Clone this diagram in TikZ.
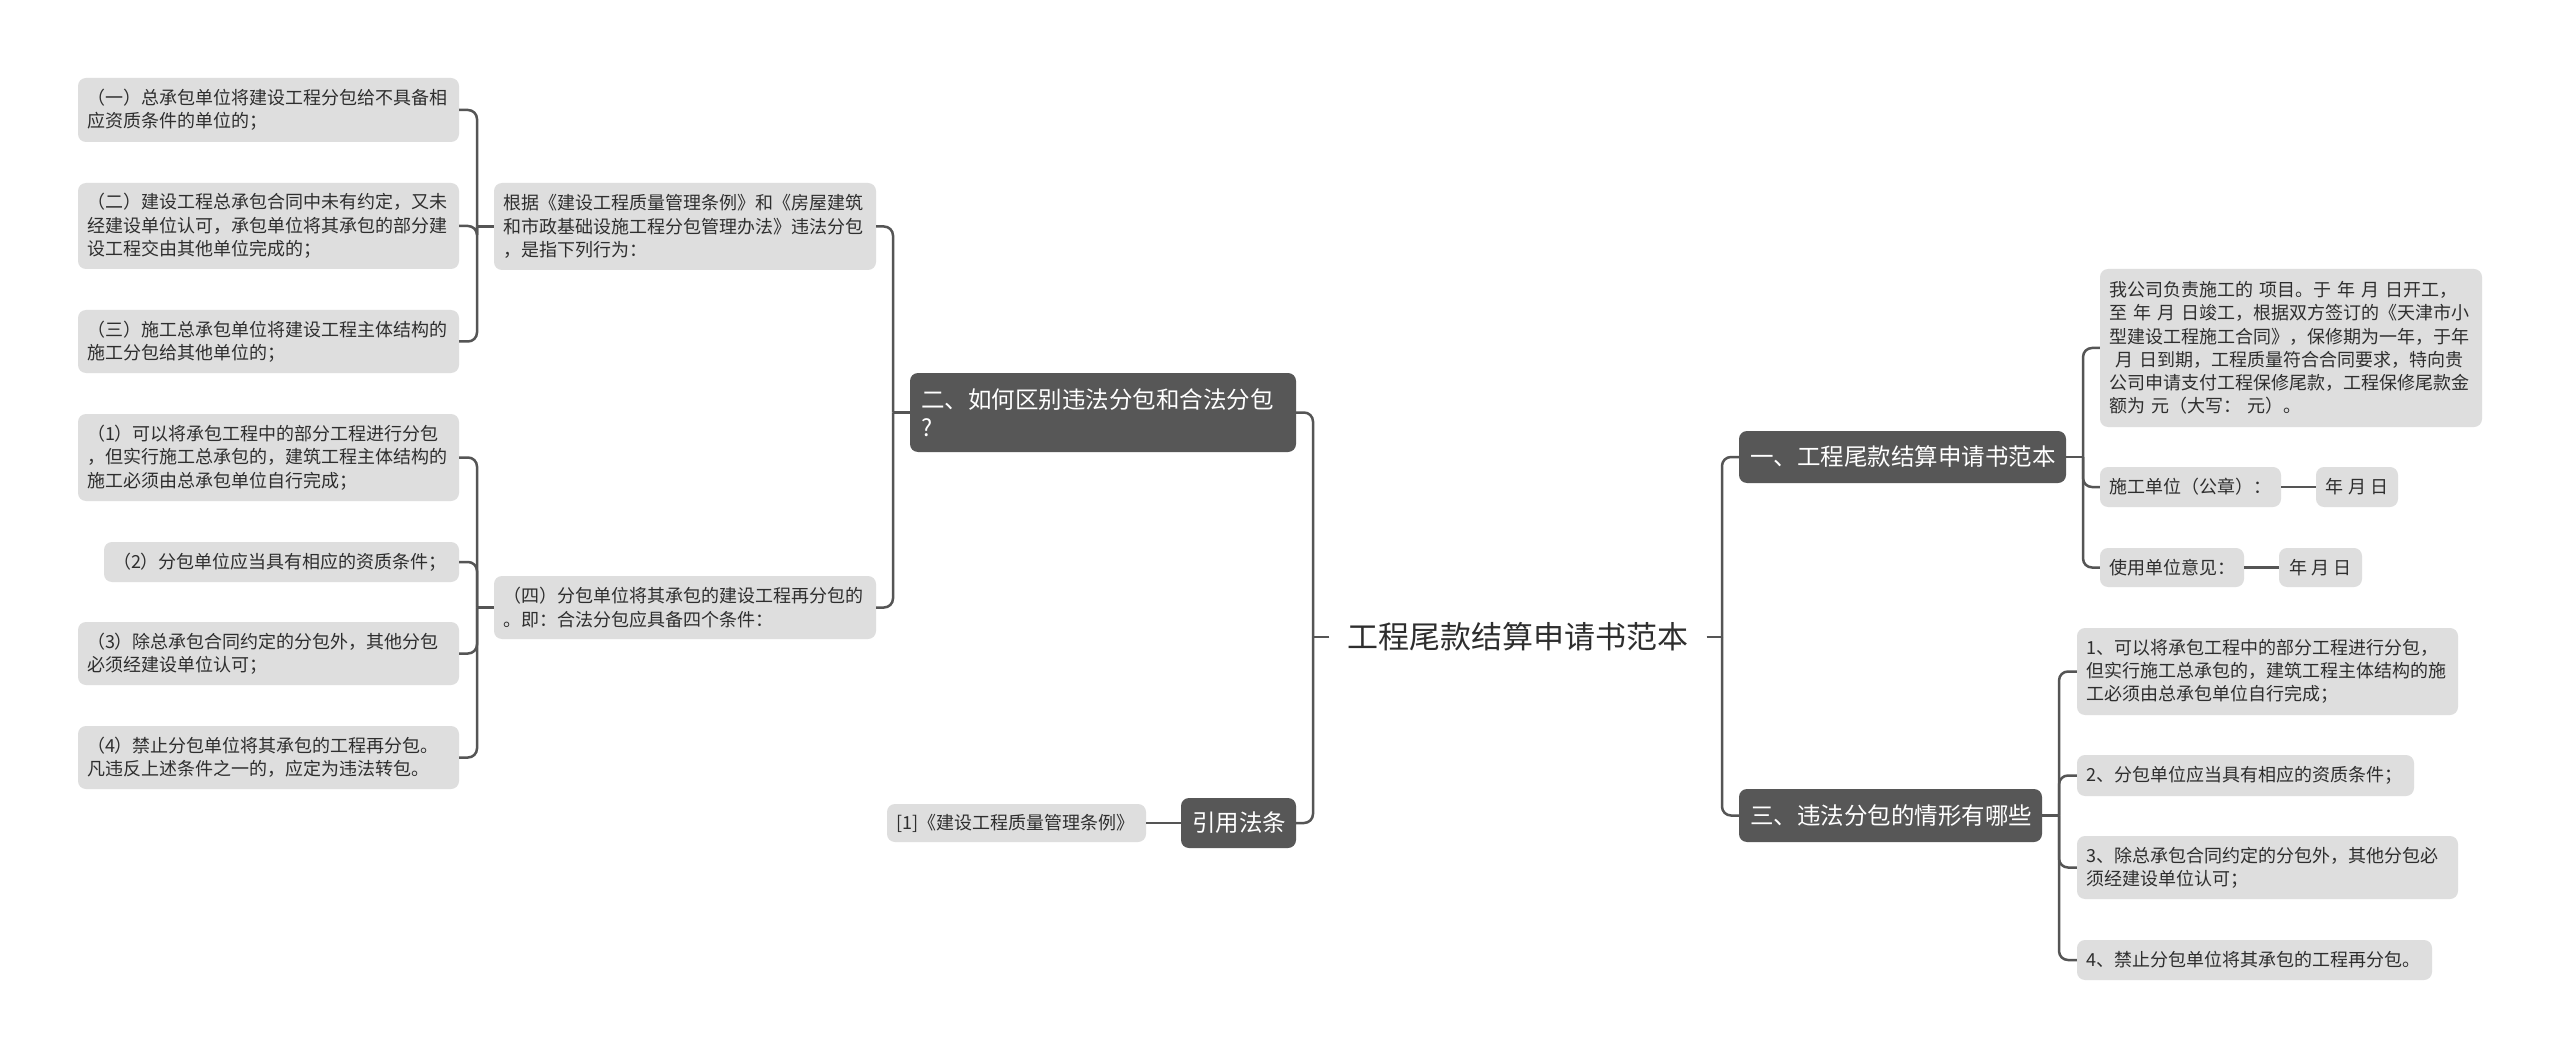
\documentclass[tikz,border=0pt]{standalone}
\usepackage{fontspec}
\setmainfont{Noto Sans CJK SC}
\definecolor{boxgray}{HTML}{DEDEDE}
\definecolor{darkbox}{HTML}{575757}
\definecolor{linegray}{HTML}{555555}
\definecolor{txt}{HTML}{2E2E2E}
\newcommand\mmSmall{\fontsize{18}{23.3}\selectfont}
\newcommand\mmMid{\fontsize{23.5}{28.5}\selectfont}
\newcommand\mmBig{\fontsize{31}{36}\selectfont}
\tikzset{
  lbox/.style={fill=boxgray, rounded corners=8pt, inner xsep=9pt, inner ysep=0pt,
    align=left, font=\mmSmall, text=txt},
  dbox/.style={fill=darkbox, rounded corners=8pt, inner xsep=11pt, inner ysep=0pt,
    align=left, font=\mmMid, text=white},
  conn/.style={draw=linegray, line width=2.5pt, rounded corners=9pt},
}
\begin{document}
\begin{tikzpicture}[x=1pt,y=-1pt]
\useasboundingbox[fill=white] (0,0) rectangle (2560,1059);

% ---------- root ----------
\node[font=\mmBig, text=txt, inner xsep=18pt, inner ysep=4pt] (root) at (1518,637) {工程尾款结算申请书范本};

% ---------- left side ----------
\node[dbox, minimum height=79pt, text width=364pt] (n2) at (1103,412.5) {二、如何区别违法分包和合法分包\\?};
\node[dbox, minimum height=50pt, text width=93pt] (n4) at (1238.5,823) {引用法条};
\node[lbox, minimum height=38pt, text width=241pt] (ref) at (1016.5,823) {[1]《建设工程质量管理条例》};

\node[lbox, minimum height=87pt, text width=364pt] (p1) at (685,226.5) {根据《建设工程质量管理条例》和《房屋建筑\\和市政基础设施工程分包管理办法》违法分包\\，是指下列行为：};
\node[lbox, minimum height=63pt, text width=364pt] (p2) at (685,607.5) {（四）分包单位将其承包的建设工程再分包的\\。即：合法分包应具备四个条件：};

\node[lbox, minimum height=64pt, text width=363pt] (a1) at (268.5,110) {（一）总承包单位将建设工程分包给不具备相\\应资质条件的单位的；};
\node[lbox, minimum height=86pt, text width=363pt] (a2) at (268.5,226) {（二）建设工程总承包合同中未有约定，又未\\经建设单位认可，承包单位将其承包的部分建\\设工程交由其他单位完成的；};
\node[lbox, minimum height=63pt, text width=363pt] (a3) at (268.5,341.5) {（三）施工总承包单位将建设工程主体结构的\\施工分包给其他单位的；};

\node[lbox, minimum height=87pt, text width=363pt] (b1) at (268.5,457.5) {（1）可以将承包工程中的部分工程进行分包\\，但实行施工总承包的，建筑工程主体结构的\\施工必须由总承包单位自行完成；};
\node[lbox, minimum height=40pt, text width=337pt] (b2) at (281.5,562) {（2）分包单位应当具有相应的资质条件；};
\node[lbox, minimum height=63pt, text width=363pt] (b3) at (268.5,653.5) {（3）除总承包合同约定的分包外，其他分包\\必须经建设单位认可；};
\node[lbox, minimum height=63pt, text width=363pt] (b4) at (268.5,757.5) {（4）禁止分包单位将其承包的工程再分包。\\凡违反上述条件之一的，应定为违法转包。};

% ---------- right side ----------
\node[dbox, minimum height=52pt, text width=305pt] (n1) at (1902.5,457) {一、工程尾款结算申请书范本};
\node[dbox, minimum height=53pt, text width=281pt] (n3) at (1890.5,815.5) {三、违法分包的情形有哪些};

\node[lbox, minimum height=158pt, text width=364pt] (c1) at (2291,348) {我公司负责施工的 项目。于 年 月 日开工，\\至 年 月 日竣工，根据双方签订的《天津市小\\型建设工程施工合同》，保修期为一年，于年\\\ 月 日到期，工程质量符合合同要求，特向贵\\公司申请支付工程保修尾款，工程保修尾款金\\额为 元（大写： 元）。};
\node[lbox, minimum height=40pt, text width=163pt] (c2) at (2190.5,487) {施工单位（公章）：};
\node[lbox, minimum height=40pt, minimum width=82pt] (c2d) at (2357,487) {年 月 日};
\node[lbox, minimum height=39pt, text width=126pt] (c3) at (2172,567.5) {使用单位意见：};
\node[lbox, minimum height=39pt, minimum width=83pt] (c3d) at (2320.5,567.5) {年 月 日};

\node[lbox, minimum height=87pt, text width=363pt] (d1) at (2267.5,671.5) {1、可以将承包工程中的部分工程进行分包，\\但实行施工总承包的，建筑工程主体结构的施\\工必须由总承包单位自行完成；};
\node[lbox, minimum height=41pt, text width=319pt] (d2) at (2245.5,775.5) {2、分包单位应当具有相应的资质条件；};
\node[lbox, minimum height=63pt, text width=363pt] (d3) at (2267.5,867.5) {3、除总承包合同约定的分包外，其他分包必\\须经建设单位认可；};
\node[lbox, minimum height=40pt, text width=337pt] (d4) at (2254.5,960) {4、禁止分包单位将其承包的工程再分包。};

% ---------- junctions ----------
\coordinate (jL) at (1313,637);
\coordinate (jN2) at (893,412.5);
\coordinate (jP1) at (477,226.5);
\coordinate (jP2) at (477,607.5);
\coordinate (jR) at (1722,637);
\coordinate (jN1) at (2083,457);
\coordinate (jN3) at (2059,815.5);

% ---------- connectors ----------
\draw[conn] (root.west) -- (jL);
\draw[conn] (jL) |- (n2.east);
\draw[conn] (jL) |- (n4.east);
\draw[conn] (n4.west) -- (ref.east);

\draw[conn] (n2.west) -- (jN2);
\draw[conn] (jN2) |- (p1.east);
\draw[conn] (jN2) |- (p2.east);

\draw[conn] (p1.west) -- (jP1);
\draw[conn] (jP1) |- (a1.east);
\draw[conn] (jP1) |- (a2.east);
\draw[conn] (jP1) |- (a3.east);

\draw[conn] (p2.west) -- (jP2);
\draw[conn] (jP2) |- (b1.east);
\draw[conn] (jP2) |- (b2.east);
\draw[conn] (jP2) |- (b3.east);
\draw[conn] (jP2) |- (b4.east);

\draw[conn] (root.east) -- (jR);
\draw[conn] (jR) |- (n1.west);
\draw[conn] (jR) |- (n3.west);

\draw[conn] (n1.east) -- (jN1);
\draw[conn] (jN1) |- (c1.west);
\draw[conn] (jN1) |- (c2.west);
\draw[conn] (jN1) |- (c3.west);
\draw[conn] (c2.east) -- (c2d.west);
\draw[conn] (c3.east) -- (c3d.west);

\draw[conn] (n3.east) -- (jN3);
\draw[conn] (jN3) |- (d1.west);
\draw[conn] (jN3) |- (d2.west);
\draw[conn] (jN3) |- (d3.west);
\draw[conn] (jN3) |- (d4.west);
\end{tikzpicture}
\end{document}
